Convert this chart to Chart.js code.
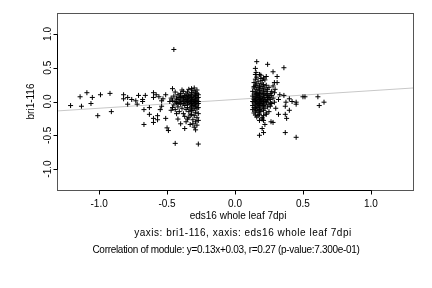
<!DOCTYPE html>
<html>
<head>
<meta charset="utf-8">
<script src="https://cdn.jsdelivr.net/npm/chart.js@4/dist/chart.umd.min.js"></script>
<style>
  html, body { margin: 0; padding: 0; background: #fff; }
  canvas { display: block; }
</style>
</head>
<body>
<canvas id="ScatterChart" width="432" height="288"></canvas>
<script>
// genes on the left (negative eds16 values)
const leftX = [
  -1.21, -1.14, -1.13, -1.09, -1.05, -1.06, -1.01, -0.99, -0.92, -0.91,
  -0.82, -0.82, -0.79, -0.79, -0.76, -0.73, -0.72, -0.71, -0.68, -0.68,
  -0.67, -0.66, -0.67, -0.60, -0.60, -0.63, -0.63, -0.60, -0.60, -0.58,
  -0.56, -0.57, -0.57, -0.54, -0.54, -0.55, -0.53, -0.51, -0.51, -0.50,
  -0.49, -0.46, -0.45, -0.44, -0.27,
  -0.46, -0.45, -0.45, -0.44, -0.44, -0.43, -0.43, -0.42, -0.42, -0.42,
  -0.41, -0.41, -0.41, -0.40, -0.40, -0.40, -0.39, -0.39, -0.39, -0.38,
  -0.38, -0.38, -0.38, -0.37, -0.37, -0.37, -0.37, -0.36, -0.36, -0.36,
  -0.36, -0.36, -0.35, -0.35, -0.35, -0.35, -0.35, -0.34, -0.34, -0.34,
  -0.34, -0.34, -0.34, -0.33, -0.33, -0.33, -0.33, -0.33, -0.33, -0.32,
  -0.32, -0.32, -0.32, -0.32, -0.32, -0.32, -0.31, -0.31, -0.31, -0.31,
  -0.31, -0.31, -0.31, -0.30, -0.30, -0.30, -0.30, -0.30, -0.30, -0.30,
  -0.30, -0.29, -0.29, -0.29, -0.29, -0.29, -0.29, -0.29, -0.29, -0.28,
  -0.28, -0.28, -0.28, -0.28, -0.28, -0.28, -0.28, -0.27, -0.27, -0.27,
  -0.27, -0.27, -0.27, -0.27, -0.42, -0.40, -0.44, -0.39, -0.37, -0.35,
  -0.33, -0.31, -0.29, -0.43, -0.46, -0.47, -0.47, -0.48, -0.36, -0.34,
  -0.32, -0.38, -0.40, -0.42
]
const leftY = [
  -0.06, 0.07, -0.07, 0.13, 0.06, -0.03, -0.21, 0.10, 0.12, -0.15,
  0.10, 0.04, 0.06, -0.04, 0.03, 0.01, -0.04, 0.09, 0.03, 0.00,
  -0.12, 0.09, -0.34, 0.13, 0.06, -0.19, -0.09, -0.25, -0.31, 0.10,
  0.07, -0.21, -0.27, 0.01, -0.07, -0.12, 0.04, -0.25, 0.10, -0.39,
  -0.43, 0.19, 0.77, -0.62, -0.63,
  0.02, -0.05, 0.08, 0.00, -0.12, 0.05, -0.02, 0.10, -0.08, 0.03,
  -0.01, 0.06, -0.15, 0.02, -0.04, 0.12, 0.00, -0.10, 0.07, -0.03,
  0.04, -0.18, 0.15, 0.01, -0.06, 0.09, -0.22, 0.03, -0.01, -0.12,
  0.11, -0.30, 0.05, -0.04, 0.00, -0.09, 0.14, 0.02, -0.02, 0.07,
  -0.15, -0.24, 0.18, 0.00, 0.04, -0.05, 0.10, -0.11, -0.34, 0.01,
  -0.03, 0.06, -0.08, 0.13, -0.19, 0.19, 0.03, -0.01, 0.08, -0.06,
  -0.13, 0.16, -0.27, 0.00, 0.05, -0.04, 0.11, -0.10, -0.21, 0.20,
  -0.38, 0.02, -0.02, 0.07, -0.07, 0.14, -0.16, -0.30, 0.09, 0.01,
  -0.05, 0.04, -0.11, 0.12, -0.24, 0.17, -0.35, 0.00, -0.03, 0.06,
  -0.09, 0.10, -0.18, -0.28, -0.26, -0.33, 0.14, 0.17, -0.40, -0.26,
  -0.20, -0.33, -0.42, -0.18, -0.09, 0.05, -0.13, 0.00, 0.07, 0.09,
  -0.13, 0.06, 0.08, -0.03
]

// genes on the right (positive eds16 values)
const rightX = [
  0.16, 0.24, 0.36, 0.15, 0.155, 0.28, 0.19, 0.23, 0.31, 0.31,
  0.295, 0.33, 0.36, 0.32, 0.29, 0.375, 0.40, 0.42, 0.45, 0.45,
  0.50, 0.515, 0.61, 0.655, 0.62, 0.37, 0.40, 0.37, 0.32, 0.38,
  0.25, 0.21, 0.18, 0.21, 0.265, 0.28, 0.22, 0.20, 0.21, 0.18,
  0.37, 0.45, 0.17,
  0.13, 0.13, 0.13, 0.13, 0.13, 0.14, 0.14, 0.14, 0.14, 0.14,
  0.14, 0.14, 0.14, 0.15, 0.15, 0.15, 0.15, 0.15, 0.15, 0.15,
  0.15, 0.15, 0.15, 0.16, 0.16, 0.16, 0.16, 0.16, 0.16, 0.16,
  0.16, 0.16, 0.16, 0.17, 0.17, 0.17, 0.17, 0.17, 0.17, 0.17,
  0.17, 0.17, 0.17, 0.18, 0.18, 0.18, 0.18, 0.18, 0.18, 0.18,
  0.18, 0.18, 0.18, 0.19, 0.19, 0.19, 0.19, 0.19, 0.19, 0.19,
  0.19, 0.19, 0.19, 0.20, 0.20, 0.20, 0.20, 0.20, 0.20, 0.20,
  0.20, 0.21, 0.21, 0.21, 0.21, 0.21, 0.21, 0.21, 0.22, 0.22,
  0.22, 0.22, 0.22, 0.22, 0.22, 0.23, 0.23, 0.23, 0.23, 0.23,
  0.23, 0.24, 0.24, 0.24, 0.24, 0.24, 0.25, 0.25, 0.25, 0.25,
  0.26, 0.26, 0.26, 0.27, 0.27, 0.28, 0.28, 0.29, 0.30, 0.26,
  0.27, 0.29, 0.21, 0.23, 0.20, 0.15, 0.14, 0.13
]
const rightY = [
  0.59, 0.55, 0.50, 0.49, 0.43, 0.44, 0.39, 0.37, 0.37, 0.28,
  0.18, 0.10, 0.09, 0.03, -0.01, -0.01, 0.04, 0.00, -0.04, -0.01,
  0.07, 0.07, 0.07, -0.01, -0.06, -0.07, -0.13, -0.19, -0.19, -0.25,
  -0.15, -0.21, -0.28, -0.28, -0.30, -0.31, -0.34, -0.40, -0.46, -0.50,
  -0.46, -0.53, -0.21,
  0.00, 0.08, -0.06, 0.15, -0.12, 0.03, -0.02, 0.11, -0.09, 0.20,
  -0.17, 0.28, 0.05, 0.00, 0.07, -0.04, 0.14, -0.10, 0.24, -0.20,
  0.33, 0.02, -0.14, 0.04, -0.01, 0.10, -0.07, 0.18, -0.13, 0.26,
  -0.23, 0.36, 0.12, 0.01, 0.06, -0.03, 0.13, -0.09, 0.21, -0.16,
  0.30, 0.09, -0.05, 0.03, -0.02, 0.08, -0.06, 0.16, -0.12, 0.23,
  -0.19, 0.40, 0.11, 0.00, 0.05, -0.04, 0.12, -0.11, 0.19, -0.15,
  0.27, 0.34, 0.02, 0.07, -0.03, 0.14, -0.08, 0.22, -0.24, 0.31,
  0.04, -0.01, 0.10, -0.06, 0.17, -0.13, 0.25, 0.01, 0.06, -0.05,
  0.12, -0.10, 0.20, 0.32, 0.03, -0.02, 0.09, 0.15, -0.17, 0.24,
  0.00, 0.05, -0.08, 0.18, 0.11, 0.02, 0.08, -0.04, 0.21, 0.06,
  0.12, -0.02, 0.03, 0.15, 0.09, 0.23, 0.05, 0.13, -0.10, -0.07,
  -0.03, 0.28, 0.35, -0.19, -0.26, 0.40, 0.22
]

// fitted line y = 0.13x + 0.03 across the plot range
const fitX = [-1.31, 1.31]
const fitY = [-0.14, 0.20]

const xTicks = [-1.0, -0.5, 0.0, 0.5, 1.0]
const xTickLabels = ['-1.0', '-0.5', '0.0', '0.5', '1.0']
const yTicks = [-1.0, -0.5, 0.0, 0.5, 1.0]
const yTickLabels = ['-1.0', '-0.5', '0.0', '0.5', '1.0']

const xTitle = 'eds16 whole leaf 7dpi'
const yTitle = 'bri1-116'
const subLines = [
  'yaxis: bri1-116, xaxis: eds16 whole leaf 7dpi',
  'Correlation of module: y=0.13x+0.03, r=0.27 (p-value:7.300e-01)'
]

function toPoints(xs, ys) {
  return xs.map((x, i) => ({ x: x, y: ys[i] }))
}

const FONT = '10px "Liberation Sans", Arial, Helvetica, sans-serif'

// R style frame, ticks and labels drawn over the chart
const rAxesPlugin = {
  id: 'rAxes',
  afterDraw(chart) {
    const ctx = chart.ctx
    const area = chart.chartArea
    const xs = chart.scales.x
    const ys = chart.scales.y
    ctx.save()

    // box
    ctx.strokeStyle = '#555'
    ctx.lineWidth = 1
    ctx.strokeRect(
      Math.round(area.left) + 0.5,
      Math.round(area.top) + 0.5,
      Math.round(area.right - area.left),
      Math.round(area.bottom - area.top)
    )

    ctx.strokeStyle = '#000'
    ctx.fillStyle = '#000'
    ctx.font = FONT

    // x axis
    const by = Math.round(area.bottom) + 0.5
    ctx.beginPath()
    ctx.moveTo(Math.round(xs.getPixelForValue(xTicks[0])) + 0.5, by)
    ctx.lineTo(Math.round(xs.getPixelForValue(xTicks[xTicks.length - 1])) + 0.5, by)
    xTicks.forEach((v) => {
      const px = Math.round(xs.getPixelForValue(v)) + 0.5
      ctx.moveTo(px, by)
      ctx.lineTo(px, by + 4)
    })
    ctx.stroke()
    ctx.textAlign = 'center'
    ctx.textBaseline = 'middle'
    xTicks.forEach((v, i) => {
      ctx.fillText(xTickLabels[i], xs.getPixelForValue(v), 204)
    })

    // y axis
    const lx = Math.round(area.left) + 0.5
    ctx.beginPath()
    ctx.moveTo(lx, Math.round(ys.getPixelForValue(yTicks[0])) + 0.5)
    ctx.lineTo(lx, Math.round(ys.getPixelForValue(yTicks[yTicks.length - 1])) + 0.5)
    yTicks.forEach((v) => {
      const py = Math.round(ys.getPixelForValue(v)) + 0.5
      ctx.moveTo(lx, py)
      ctx.lineTo(lx - 4, py)
    })
    ctx.stroke()
    yTicks.forEach((v, i) => {
      ctx.save()
      ctx.translate(48, ys.getPixelForValue(v))
      ctx.rotate(-Math.PI / 2)
      ctx.fillText(yTickLabels[i], 0, 0)
      ctx.restore()
    })

    // axis titles
    ctx.save()
    ctx.translate(31, (area.top + area.bottom) / 2)
    ctx.rotate(-Math.PI / 2)
    ctx.fillText(yTitle, 0, 0)
    ctx.restore()
    ctx.fillText(xTitle, 238, 216)

    // subtitle lines (spacing nudged to the widths in the original)
    ctx.letterSpacing = '0.5px'
    ctx.fillText(subLines[0], 243, 233)
    ctx.letterSpacing = '-0.3px'
    ctx.fillText(subLines[1], 226, 250)
    ctx.letterSpacing = '0px'

    ctx.restore()
  }
}

const scatterChart = new Chart(document.getElementById('ScatterChart'), {
  type: 'scatter',
  data: {
    datasets: [
      {
        label: 'fit',
        type: 'line',
        data: toPoints(fitX, fitY),
        borderColor: '#c8c8c8',
        borderWidth: 1,
        pointRadius: 0,
        fill: false,
        order: 2
      },
      {
        label: 'left genes',
        data: toPoints(leftX, leftY),
        pointStyle: 'cross',
        pointRadius: 2.5,
        borderColor: '#000',
        borderWidth: 1,
        order: 1
      },
      {
        label: 'right genes',
        data: toPoints(rightX, rightY),
        pointStyle: 'cross',
        pointRadius: 2.5,
        borderColor: '#000',
        borderWidth: 1,
        order: 1
      }
    ]
  },
  options: {
    responsive: false,
    animation: false,
    layout: {
      padding: { left: 57, top: 13, right: 19, bottom: 98 }
    },
    plugins: {
      legend: { display: false },
      tooltip: { enabled: false },
      title: { display: false }
    },
    scales: {
      x: { type: 'linear', display: false, min: -1.31, max: 1.31 },
      y: { type: 'linear', display: false, min: -1.31, max: 1.31 }
    }
  },
  plugins: [rAxesPlugin]
})
</script>
</body>
</html>
